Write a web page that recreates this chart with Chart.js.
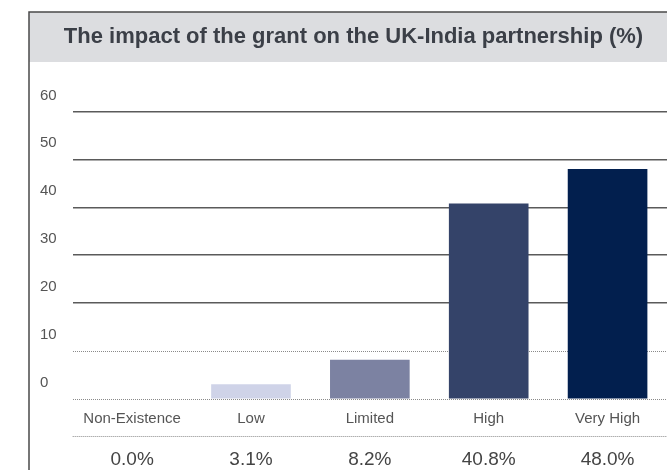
<!DOCTYPE html>
<html lang="en">
<head>
<meta charset="UTF-8">
<title>UK-India grant impact</title>
<script src="https://cdn.jsdelivr.net/npm/chart.js"></script>
<style>
  html, body { margin: 0; padding: 0; background: #fff; overflow: hidden; }
  #wrap { width: 667px; height: 470px; }
</style>
</head>
<body>
<div id="wrap"><canvas id="myChart"></canvas></div>
<script>
  // values
  var categories = ['Non-Existence', 'Low', 'Limited', 'High', 'Very High'];
  var shares = [0.0, 3.1, 8.2, 40.8, 48.0];
  var yTicks = [0, 10, 20, 30, 40, 50, 60];
  var shareLabels = shares.map(function (v) { return v.toFixed(1) + '%'; });

  var FONT = "'Liberation Sans', Arial, sans-serif";

  // grey title band, left/top frame and the dotted rule above the % row
  var framePlugin = {
    id: 'frame',
    beforeDraw: function (chart) {
      var ctx = chart.ctx;
      ctx.save();
      ctx.fillStyle = '#dcdde0';
      ctx.fillRect(29, 12, chart.width - 29, 50);
      ctx.strokeStyle = '#4a4a4a';
      ctx.lineWidth = 1.5;
      ctx.beginPath();
      ctx.moveTo(29, chart.height);
      ctx.lineTo(29, 12);
      ctx.lineTo(chart.width, 12);
      ctx.stroke();

      var x2 = chart.scales.x2;
      ctx.strokeStyle = '#8a8a8a';
      ctx.lineWidth = 1;
      ctx.setLineDash([1, 1]);
      ctx.beginPath();
      ctx.moveTo(x2.left, Math.round(x2.top) + 0.5);
      ctx.lineTo(x2.right, Math.round(x2.top) + 0.5);
      ctx.stroke();
      ctx.restore();
    }
  };

  var ctx = document.getElementById('myChart').getContext('2d');
  var myChart = new Chart(ctx, {
    type: 'bar',
    data: {
      labels: categories,
      datasets: [{
        data: shares,
        backgroundColor: ['#cfd3e8', '#cfd3e8', '#7c82a2', '#344369', '#021f4e'],
        borderWidth: 0,
        barPercentage: 0.67,
        categoryPercentage: 1
      }]
    },
    options: {
      responsive: true,
      maintainAspectRatio: false,
      animation: false,
      layout: { padding: { left: 40, top: 12, right: 0, bottom: 0 } },
      plugins: {
        legend: { display: false },
        tooltip: { enabled: false },
        title: {
          display: true,
          text: 'The impact of the grant on the UK-India partnership (%)',
          color: '#3b3f47',
          font: { family: FONT, size: 22, weight: 'bold', lineHeight: 1.2 },
          padding: { top: 12, bottom: 61 }
        }
      },
      scales: {
        x: {
          grid: { display: false, drawTicks: false },
          border: { display: false },
          ticks: { color: '#555', font: { family: FONT, size: 15 }, padding: 11, maxRotation: 0 },
          afterFit: function (s) { s.height = 37; }
        },
        x2: {
          type: 'category',
          labels: shareLabels,
          position: 'bottom',
          offset: true,
          weight: 1,
          grid: { display: false, drawTicks: false },
          border: { display: false },
          ticks: { color: '#444', font: { family: FONT, size: 19 }, padding: 12, maxRotation: 0 },
          afterFit: function (s) { s.height = 34; }
        },
        y: {
          min: 0,
          max: 60,
          afterBuildTicks: function (axis) {
            axis.ticks = yTicks.map(function (v) { return { value: v }; });
          },
          grid: {
            drawTicks: false,
            color: function (c) { return c.tick && c.tick.value <= 10 ? '#8a8a8a' : '#5a5a5a'; },
            lineWidth: function (c) { return c.tick && c.tick.value <= 10 ? 1 : 1.5; }
          },
          border: {
            display: false,
            dash: function (c) { return c.tick && c.tick.value <= 10 ? [1, 1] : []; }
          },
          ticks: {
            crossAlign: 'far',
            padding: 8,
            labelOffset: -16,
            color: '#555',
            font: { family: FONT, size: 15 }
          }
        }
      }
    },
    plugins: [framePlugin]
  });
</script>
</body>
</html>
